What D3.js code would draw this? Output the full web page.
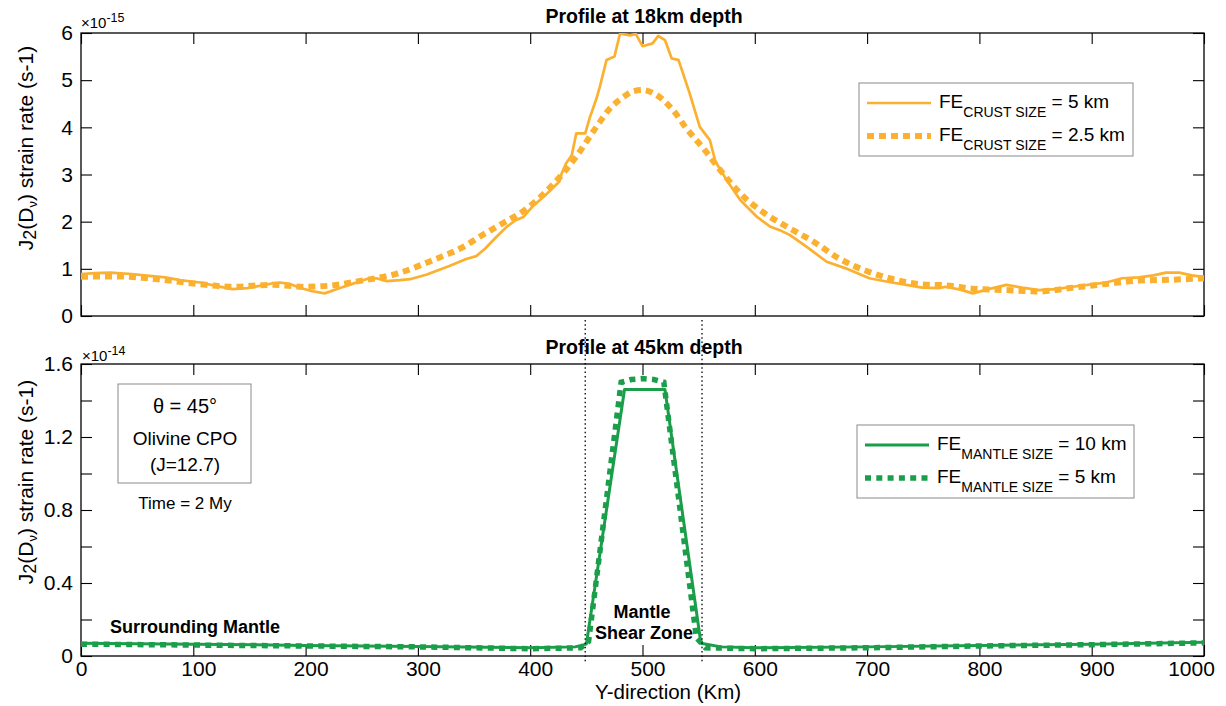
<!DOCTYPE html>
<html><head><meta charset="utf-8">
<script src="https://cdn.jsdelivr.net/npm/d3@7/dist/d3.min.js"></script>
<style>
body{margin:0;background:#fff}
svg{display:block}
text{font-family:"Liberation Sans",Arial,Helvetica,sans-serif;fill:#000}
</style>
</head><body>
<svg id="c" width="1226" height="706"></svg>
<script>
// ---------- DATA ----------
const xTicks = [0,100,200,300,400,500,600,700,800,900,1000];
const topYTicks = [0,1,2,3,4,5,6];
const botYTicks = [0,0.2,0.4,0.6,0.8,1.0,1.2,1.4,1.6];
const botYLabelTicks = [0,0.4,0.8,1.2,1.6];
const shearZoneBounds = [449,553];

// Profile at 18km depth (x1e-15)
const crust5km = [[0,0.89],[13,0.91],[26,0.92],[45,0.89],[61,0.85],[75,0.82],[88,0.76],[106,0.71],[120,0.64],[135,0.57],[148,0.59],[159,0.64],[170,0.69],[177,0.71],[186,0.68],[195,0.60],[205,0.53],[217,0.48],[230,0.59],[239,0.66],[254,0.78],[263,0.80],[272,0.74],[284,0.76],[293,0.78],[308,0.88],[328,1.06],[343,1.21],[352,1.27],[360,1.43],[370,1.68],[379,1.89],[387,2.03],[394,2.10],[402,2.32],[414,2.57],[426,2.85],[428,3.02],[432,3.24],[437,3.41],[441,3.87],[449,3.87],[453,4.20],[459,4.61],[462,4.86],[468,5.43],[475,5.50],[480,5.99],[484,5.97],[489,5.95],[494,5.98],[500,5.72],[509,5.78],[514,5.94],[520,5.85],[526,5.46],[532,5.43],[536,5.15],[542,4.72],[551,4.01],[560,3.73],[565,3.27],[575,2.88],[587,2.46],[602,2.10],[614,1.89],[624,1.80],[631,1.72],[646,1.47],[664,1.15],[681,1.01],[702,0.80],[722,0.71],[735,0.66],[749,0.60],[764,0.59],[770,0.62],[783,0.56],[794,0.48],[810,0.58],[824,0.66],[838,0.60],[853,0.55],[868,0.57],[883,0.62],[900,0.67],[913,0.71],[927,0.80],[942,0.82],[955,0.86],[966,0.92],[978,0.92],[989,0.86],[1000,0.83]];
const crust2_5km = [[0,0.83],[30,0.84],[60,0.80],[100,0.69],[135,0.62],[170,0.66],[200,0.62],[220,0.64],[250,0.75],[280,0.89],[314,1.19],[343,1.50],[355,1.68],[373,1.93],[397,2.28],[420,2.78],[441,3.38],[459,4.01],[471,4.40],[483,4.64],[491,4.76],[500,4.79],[510,4.72],[527,4.37],[539,3.98],[554,3.56],[569,3.10],[587,2.60],[611,2.14],[628,1.90],[652,1.58],[675,1.22],[699,0.96],[720,0.80],[749,0.67],[770,0.65],[794,0.58],[824,0.55],[853,0.52],[883,0.60],[913,0.68],[942,0.75],[972,0.77],[1000,0.80]];

// Profile at 45km depth (x1e-14)
const mantle10km = [[0,0.070],[100,0.065],[200,0.058],[300,0.052],[400,0.045],[440,0.050],[450,0.065],[484,1.46],[520,1.46],[552,0.07],[570,0.05],[600,0.045],[700,0.050],[800,0.058],[900,0.065],[1000,0.075]];
const mantle5km = [[0,0.065],[100,0.060],[200,0.055],[300,0.050],[400,0.040],[445,0.045],[452,0.08],[481,1.50],[490,1.515],[500,1.52],[510,1.515],[519,1.50],[548,0.10],[556,0.045],[600,0.040],[700,0.045],[800,0.055],[900,0.062],[1000,0.072]];

// ---------- STYLE / LAYOUT ----------
const ORANGE = "#FBB12F", GREEN = "#1A9E4A";
const L = 81, R = 1204;
const topP = {t:33, b:316}, botP = {t:364, b:656};
const svg = d3.select("#c");
svg.append("rect").attr("width",1226).attr("height",706).attr("fill","#fff");

const x = d3.scaleLinear().domain([0,1000]).range([L,R]);
const yTop = d3.scaleLinear().domain([0,6]).range([topP.b, topP.t]);
const yBot = d3.scaleLinear().domain([0,1.6]).range([botP.b, botP.t]);

function styleAxis(g){
  g.select(".domain").remove();
  g.selectAll(".tick line").attr("stroke","#000").attr("stroke-width",1.1);
  g.selectAll(".tick text").attr("font-size",21).attr("font-family",'"Liberation Sans",Arial,sans-serif').attr("fill","#000");
}

function panel(P, y, yTicks, yLabelFn, showX){
  const g = svg.append("g");
  g.append("g").attr("class","xb").attr("transform",`translate(0,${P.b})`)
    .call(d3.axisBottom(x).tickValues(xTicks).tickSize(-11).tickPadding(5).tickFormat(showX? d3.format("d") : () => ""))
    .call(styleAxis);
  g.append("g").attr("transform",`translate(0,${P.t})`)
    .call(d3.axisTop(x).tickValues(xTicks).tickSize(-11).tickFormat(() => ""))
    .call(styleAxis);
  g.append("g").attr("transform",`translate(${L},0)`)
    .call(d3.axisLeft(y).tickValues(yTicks).tickSize(-11).tickPadding(8).tickFormat(yLabelFn))
    .call(styleAxis);
  g.append("g").attr("transform",`translate(${R},0)`)
    .call(d3.axisRight(y).tickValues(yTicks).tickSize(-11).tickFormat(() => ""))
    .call(styleAxis);
  g.append("rect").attr("x",L).attr("y",P.t).attr("width",R-L).attr("height",P.b-P.t)
    .attr("fill","none").attr("stroke","#000").attr("stroke-width",1.3);
  return g;
}

const defs = svg.append("defs");
defs.append("clipPath").attr("id","clipTop").append("rect").attr("x",L).attr("y",topP.t).attr("width",R-L).attr("height",topP.b-topP.t);
defs.append("clipPath").attr("id","clipBot").append("rect").attr("x",L).attr("y",botP.t).attr("width",R-L).attr("height",botP.b-botP.t);

// ---------- TOP PANEL ----------
panel(topP, yTop, topYTicks, d3.format("d"), false);
const lineTopSmooth = d3.line().x(d=>x(d[0])).y(d=>yTop(d[1])).curve(d3.curveMonotoneX);
const topLines = svg.append("g").attr("clip-path","url(#clipTop)");
topLines.append("path").datum(crust5km).attr("d", d3.line().x(d=>x(d[0])).y(d=>yTop(d[1])))
  .attr("fill","none").attr("stroke",ORANGE).attr("stroke-width",2.7).attr("stroke-linejoin","round");
topLines.append("path").datum(crust2_5km).attr("d", lineTopSmooth)
  .attr("fill","none").attr("stroke",ORANGE).attr("stroke-width",6).attr("stroke-dasharray","7,5");

svg.append("text").attr("x",644).attr("y",23).attr("text-anchor","middle")
  .attr("font-size",19.5).attr("font-weight","bold").text("Profile at 18km depth");

function exponent(xp, yp, e){
  const t = svg.append("text").attr("x",xp).attr("y",yp).attr("font-size",15);
  t.append("tspan").text("\u00d710");
  t.append("tspan").attr("font-size",12.5).attr("dy",-6).text(e);
}
exponent(81, 28, "-15");

function yLabel(cy){
  const t = svg.append("text").attr("transform",`translate(33,${cy}) rotate(-90)`)
    .attr("text-anchor","middle").attr("font-size",21);
  t.append("tspan").text("J");
  t.append("tspan").attr("font-size",18).attr("dy",3).text("2");
  t.append("tspan").attr("dy",-3).text("(D");
  t.append("tspan").attr("font-size",13).attr("dy",4).text("\u03bd");
  t.append("tspan").attr("dy",-4).text(") strain rate (s-1)");
}
yLabel(148);

function legend(bx, by, bw, bh, color, wSolid, wDot, dash, rows, sub){
  svg.append("rect").attr("x",bx).attr("y",by).attr("width",bw).attr("height",bh)
    .attr("fill","#fff").attr("stroke","#8a8a8a").attr("stroke-width",1);
  rows.forEach((r,i) => {
    const ly = by + 20 + i*33;
    const seg = svg.append("line").attr("x1",bx+8).attr("x2",bx+72).attr("y1",ly).attr("y2",ly)
      .attr("stroke",color).attr("stroke-width", i===0? wSolid : wDot);
    if(i===1) seg.attr("stroke-dasharray",dash);
    const t = svg.append("text").attr("x",bx+80).attr("y",ly+5).attr("font-size",19);
    t.append("tspan").text("FE");
    t.append("tspan").attr("font-size",14).attr("dy",9).text(sub);
    t.append("tspan").attr("dy",-9).text(r);
  });
}
legend(859, 83, 274, 73, ORANGE, 2.7, 6, "7,5", [" = 5 km"," = 2.5 km"], "CRUST SIZE");

// ---------- BOTTOM PANEL ----------
const fmtBot = d => botYLabelTicks.some(v => Math.abs(v-d)<1e-9) ? (d===0 ? "0" : d.toFixed(1)) : "";
const gBot = panel(botP, yBot, botYTicks, fmtBot, true);
gBot.select(".xb").selectAll(".tick text").attr("dx", d => d===0 ? 0 : (d===1000 ? -13 : 5));

const botLines = svg.append("g").attr("clip-path","url(#clipBot)");
botLines.append("path").datum(mantle10km).attr("d", d3.line().x(d=>x(d[0])).y(d=>yBot(d[1])))
  .attr("fill","none").attr("stroke",GREEN).attr("stroke-width",3).attr("stroke-linejoin","round");
botLines.append("path").datum(mantle5km).attr("d", d3.line().x(d=>x(d[0])).y(d=>yBot(d[1])))
  .attr("fill","none").attr("stroke",GREEN).attr("stroke-width",5.5).attr("stroke-dasharray","6,5.3");

svg.append("text").attr("x",644).attr("y",354).attr("text-anchor","middle")
  .attr("font-size",19.5).attr("font-weight","bold").text("Profile at 45km depth");
exponent(82, 361, "-14");
yLabel(482);

legend(857, 425, 277, 73, GREEN, 3, 5.5, "6,5.3", [" = 10 km"," = 5 km"], "MANTLE SIZE");

svg.append("rect").attr("x",118).attr("y",384).attr("width",133).attr("height",99)
  .attr("fill","#fff").attr("stroke","#8a8a8a").attr("stroke-width",1);
svg.append("text").attr("x",185).attr("y",413).attr("text-anchor","middle").attr("font-size",20).text("\u03b8 = 45\u00b0");
svg.append("text").attr("x",185).attr("y",445).attr("text-anchor","middle").attr("font-size",19).text("Olivine CPO");
svg.append("text").attr("x",185).attr("y",471).attr("text-anchor","middle").attr("font-size",19).text("(J=12.7)");
svg.append("text").attr("x",185).attr("y",509).attr("text-anchor","middle").attr("font-size",17).text("Time = 2 My");

svg.append("text").attr("x",110).attr("y",633).attr("font-size",18).attr("font-weight","bold").text("Surrounding Mantle");
svg.append("text").attr("x",642).attr("y",618).attr("text-anchor","middle").attr("font-size",18).attr("font-weight","bold").text("Mantle");
svg.append("text").attr("x",644).attr("y",639).attr("text-anchor","middle").attr("font-size",18).attr("font-weight","bold").text("Shear Zone");

svg.selectAll("line.sz").data(shearZoneBounds).enter().append("line").attr("class","sz")
  .attr("x1",d=>x(d)).attr("x2",d=>x(d)).attr("y1",320).attr("y2",663)
  .attr("stroke","#000").attr("stroke-width",1.3).attr("stroke-dasharray","1.5,2.8");

svg.append("text").attr("x",668).attr("y",699).attr("text-anchor","middle").attr("font-size",20.5).text("Y-direction (Km)");
</script>
</body></html>
